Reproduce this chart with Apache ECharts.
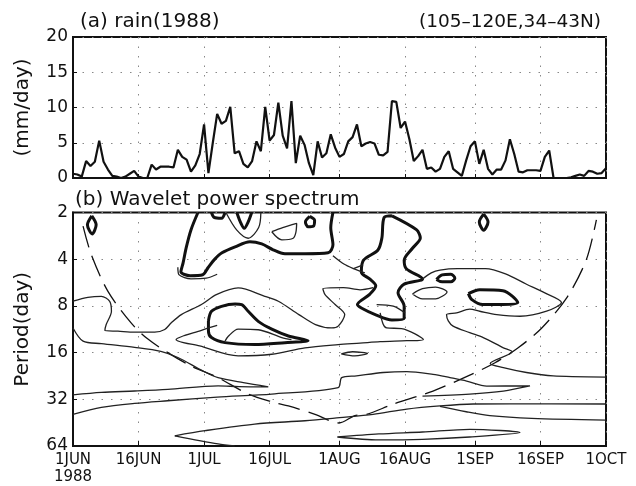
<!DOCTYPE html>
<html>
<head>
<meta charset="utf-8">
<script src="https://cdn.jsdelivr.net/npm/echarts@6/dist/echarts.min.js"></script>
<style>
html, body { margin: 0; padding: 0; background: #fff; }
#main { width: 636px; height: 486px; }
</style>
</head>
<body>
<div id="main"></div>
<script>
// days since 1 Jun 1988
var dayTicks = [0, 15, 30, 45, 61, 76, 92, 107, 122];
var dayLabels = ['1JUN\n1988', '16JUN', '1JUL', '16JUL', '1AUG', '16AUG', '1SEP', '16SEP', '1OCT'];

// (a) daily rain, mm/day, 1 Jun .. 1 Oct
var rain = [
    0.6, 0.5, 0.2, 2.4, 1.7, 2.3, 5.3, 2.3, 1.2, 0.3,
    0.2, 0.0, 0.2, 0.6, 1.0, 0.2, 0.0, 0.0, 1.9, 1.2,
    1.6, 1.6, 1.6, 1.5, 4.0, 3.0, 2.6, 0.9, 1.8, 3.4,
    7.6, 0.7, 5.0, 9.1, 7.7, 8.1, 10.1, 3.5, 3.8, 2.0,
    1.5, 2.4, 5.2, 3.8, 10.1, 5.3, 6.1, 10.7, 6.0, 4.2,
    10.9, 2.1, 6.0, 4.7, 2.1, 0.4, 5.2, 2.9, 3.5, 6.2,
    4.3, 3.0, 3.4, 5.2, 5.8, 7.6, 4.5, 4.9, 5.1, 4.9,
    3.3, 3.2, 3.7, 10.9, 10.8, 7.1, 8.0, 5.5, 2.4, 3.1,
    4.0, 1.3, 1.5, 0.9, 1.3, 3.0, 3.8, 1.3, 0.8, 0.3,
    2.5, 4.5, 5.2, 2.0, 4.0, 1.3, 0.5, 1.2, 1.2, 2.5,
    5.5, 3.4, 0.9, 0.8, 1.1, 1.1, 1.1, 1.0, 3.0, 3.9,
    0.0, 0.0, 0.0, 0.0, 0.1, 0.3, 0.5, 0.3, 1.0, 0.9,
    0.6, 0.7, 1.4
];

// (b) cone of influence, [day, period]
var coi = [
    [2.3, 2.45], [4.2, 3.75], [8, 6.45], [13.3, 10.3], [17, 13], [21.7, 16], [27, 19.5],
    [33.2, 23.2], [40.1, 29.6], [46.2, 33.6], [49.3, 35.3], [55.4, 40], [60.9, 45.5],
    [64.5, 40.8], [67.2, 40], [73.3, 34.4], [82.4, 28.3], [91.2, 22.1], [96.6, 18.6],
    [101.9, 14.9], [107.3, 11.1], [113, 7.1], [117.5, 4.03], [119.8, 2.23]
];

// thick contours (significant power), [day, period]
var thickLines = [
    [[4.3, 2.1], [5.3, 2.4], [4.4, 2.75], [3.3, 2.4], [4.3, 2.1]],
    [[94, 2.05], [95, 2.3], [94, 2.6], [93, 2.3], [94, 2.05]],
    [[28.6, 2], [27, 2.59], [25.9, 3.38], [25.2, 4.22], [24.7, 4.82], [26.8, 5.11], [29.7, 5.04],
     [30.9, 4.54], [32.3, 4.04], [34.1, 3.64], [37.1, 3.33], [40.5, 3.09], [43.2, 3.19],
     [45.8, 3.48], [48.5, 3.69], [53.1, 3.69], [58.4, 3.64], [59.5, 3.23], [59, 2.51], [59.5, 2]],
    [[31.7, 2], [32.3, 2.15], [34, 2.18], [34.8, 2]],
    [[37.5, 2], [38.3, 2.3], [39.2, 2.53], [40.1, 2.3], [40.9, 2]],
    [[54.2, 2.12], [55.3, 2.25], [55, 2.45], [53.8, 2.47], [53.2, 2.3], [54.2, 2.12]],
    [[73, 2.1], [78.6, 2.58], [79.5, 2.92], [77.7, 3.4], [75.8, 4.06], [76.3, 4.61], [80, 5.36],
     [75.8, 5.79], [74.4, 6.57], [75.8, 8.04], [75.8, 9.6], [73, 9.85], [69.3, 9.13], [66, 8.25],
     [65.1, 7.84], [67.9, 6.74], [69.3, 5.93], [67.9, 5.36], [66, 4.85], [66.5, 4.06], [69.8, 3.49],
     [70.7, 2.92], [71.2, 2.16], [73, 2.1]],
    [[83.2, 5.4], [84.5, 5.05], [86.5, 5.0], [87.4, 5.3], [86.5, 5.6], [84.5, 5.6], [83.2, 5.4]],
    [[90.5, 6.67], [93.1, 6.29], [98.4, 6.38], [101.8, 7.62], [98.4, 7.84], [93.8, 7.84], [91.3, 7.29], [90.5, 6.67]],
    [[31, 10.0], [31.7, 8.67], [34, 8.05], [37.1, 7.77], [38.6, 7.84], [40.1, 8.67], [42.4, 10.06],
     [45.5, 11.3], [49.3, 12.5], [53.8, 13.4], [48.5, 13.8], [41.6, 14.2], [34.8, 13.8], [31.7, 12.8],
     [31, 11.6], [31, 10.0]]
];

// thin contours, [day, period]
var thinLines = [
    [[0, 7.46], [3.4, 7.05], [6.5, 6.94], [8.4, 7.47], [8.8, 8.66], [7.6, 10.55], [7.3, 11.53],
     [10.3, 11.64], [14.1, 11.8], [18.7, 11.8], [21, 11.35], [22.5, 10.28], [24.8, 9.1], [29.4, 7.84],
     [32.8, 6.77], [37.8, 6.13], [43.9, 6.94], [47, 7.47], [51.7, 9.1], [55.5, 10.55], [59.2, 11.1],
     [60.7, 10.8], [62.2, 9.1], [60, 7.84], [57.7, 6.77], [57.2, 6.2], [61.9, 6.1], [65.7, 6.3], [68.7, 6.1]],
    [[24, 4.5], [24.3, 5.05], [27, 5.35], [30.5, 5.3], [33, 5.0]],
    [[59.5, 3.8], [62, 4.3], [64.2, 4.6], [66.8, 4.9]],
    [[64.2, 4.6], [66.4, 4.35]],
    [[80, 5.36], [82, 4.9], [84, 4.7], [88, 4.6], [94.4, 4.6], [99, 4.97], [103.7, 5.78], [108, 6.6],
     [111.8, 7.6], [108.4, 8.66], [102.3, 9.33], [97, 9.1], [93.1, 8.66], [90.8, 8.4], [87.8, 8.87],
     [85.5, 9.1], [85.9, 10], [87, 10.8], [90.8, 11.9], [93.9, 12.8], [98.5, 14.9], [100.5, 15.8],
     [95.5, 18.8], [98.5, 20], [103.8, 21.5], [109.9, 22.6], [122, 23]],
    [[77.7, 6.7], [80, 6.2], [83, 6.05], [85.6, 6.5], [83, 7.2], [80, 7.2], [77.7, 6.7]],
    [[33, 10.7], [29.4, 11.5], [23.6, 13.2], [29, 14.5], [37.8, 16.8], [45.5, 16.4], [53.1, 14.9],
     [60.7, 14.2], [65.7, 13.9], [70.3, 13.6], [76.4, 13.4], [80.2, 13.2], [75.2, 11.2], [71.8, 11.1],
     [71, 10.5], [70.3, 8.87]],
    [[69.5, 7.84], [73.3, 8.03], [76, 8.87]],
    [[61.4, 16.3], [64, 15.8], [67.4, 16.2], [64.5, 16.8], [61.4, 16.3]],
    [[45.5, 2.66], [48, 2.5], [51.2, 2.35], [51, 2.7], [50.4, 2.93], [47.8, 3.0], [45.5, 2.66]],
    [[35, 2], [37.5, 2.6], [40.1, 2.93], [42.5, 2.5], [43, 2]],
    [[34.8, 13.5], [35.5, 12.6], [37.8, 11.3], [42.4, 11.4], [47.8, 12.8], [50, 13.2]],
    [[0, 11.1], [2.3, 13.5], [6.5, 14], [14.1, 14.8], [20.1, 15.7], [24, 17.2], [29.7, 21], [33.2, 23.2],
     [39, 25], [44.7, 26.6], [38, 26.5], [33.2, 26.2], [21.7, 27.6], [14.1, 28.3], [6.5, 28.9], [0, 30]],
    [[0, 40], [6.5, 36.1], [14.1, 34], [21.7, 32.7], [33, 31], [45.5, 29.6], [60.7, 26.9], [61.5, 23.2],
     [64.9, 22.6], [71, 21.5], [76.4, 21.2], [82.4, 22.1], [86.3, 23.2], [90.1, 24.4], [94.7, 26.3],
     [104.6, 26.2], [98.5, 28.3], [90.8, 29.6], [80, 30.5]],
    [[23.3, 55], [30.2, 51], [41.6, 46.2], [53.1, 44], [61, 42], [68.7, 40], [76.4, 37], [84, 35.3],
     [91.6, 34.3], [100, 34.2], [122, 34.3]],
    [[84, 35.5], [90, 38.5], [95.4, 40.8], [105, 42.5], [122, 43.6]],
    [[23.3, 55], [33.2, 62], [37, 64]],
    [[60.5, 56], [70, 53.5], [80, 52], [90.8, 50], [102.3, 52.4], [90.8, 56], [80, 58], [70, 58.5], [60.5, 56]]
];

var font = 'DejaVu Sans';
var ink = '#111';
var dotted = { color: '#888', width: 1, type: [1.5, 8] };

var chart = echarts.init(document.getElementById('main'));

var series = [
    {
        type: 'line',
        xAxisIndex: 0,
        yAxisIndex: 0,
        data: rain.map(function (v, i) { return [i, v]; }),
        showSymbol: false,
        lineStyle: { color: ink, width: 2.2 },
        silent: true
    },
    {
        type: 'line',
        xAxisIndex: 1,
        yAxisIndex: 1,
        data: coi,
        showSymbol: false,
        smooth: 0.3,
        lineStyle: { color: ink, width: 1.3, type: [22, 9] },
        silent: true
    }
];

thickLines.forEach(function (pts) {
    series.push({
        type: 'line', xAxisIndex: 1, yAxisIndex: 1, data: pts,
        showSymbol: false, smooth: 0.3, silent: true,
        lineStyle: { color: ink, width: 3 }
    });
});

thinLines.forEach(function (pts) {
    series.push({
        type: 'line', xAxisIndex: 1, yAxisIndex: 1, data: pts,
        showSymbol: false, smooth: 0.3, silent: true,
        lineStyle: { color: '#222', width: 1.3 }
    });
});

var titleStyle = { fontFamily: font, fontSize: 20, fontWeight: 'normal', color: ink };

chart.setOption({
    animation: false,
    backgroundColor: '#fff',
    title: [
        { text: '(a) rain(1988)', left: 75, top: 7, textStyle: titleStyle },
        { text: '(105–120E,34–43N)', right: 30, top: 8,
          textStyle: { fontFamily: font, fontSize: 18.5, fontWeight: 'normal', color: ink } },
        { text: '(b) Wavelet power spectrum', left: 70, top: 185, textStyle: titleStyle }
    ],
    grid: [
        { left: 73, top: 37, width: 533, height: 141, show: true, borderColor: ink, borderWidth: 2 },
        { left: 73, top: 212.5, width: 533, height: 234.5, show: true, borderColor: ink, borderWidth: 2 }
    ],
    xAxis: [
        {
            gridIndex: 0, type: 'value', min: 0, max: 122,
            axisLine: { show: true, lineStyle: { color: ink, width: 2 } },
            axisTick: { show: true, inside: true, length: 4, customValues: dayTicks, lineStyle: { color: ink } },
            axisLabel: { show: false, customValues: dayTicks },
            splitLine: { show: true, lineStyle: dotted }
        },
        {
            gridIndex: 1, type: 'value', min: 0, max: 122,
            axisLine: { show: true, lineStyle: { color: ink, width: 2 } },
            axisTick: { show: true, inside: true, length: 5, customValues: dayTicks, lineStyle: { color: ink } },
            axisLabel: {
                customValues: dayTicks,
                formatter: function (v) { return dayLabels[dayTicks.indexOf(v)]; },
                fontFamily: font, fontSize: 15, color: ink, margin: 6, lineHeight: 17
            },
            splitLine: { show: true, lineStyle: dotted }
        }
    ],
    yAxis: [
        {
            gridIndex: 0, type: 'value', min: 0, max: 20, interval: 5,
            name: '(mm/day)', nameLocation: 'middle', nameGap: 40,
            nameTextStyle: { fontFamily: font, fontSize: 20, color: ink },
            axisLine: { show: true, lineStyle: { color: ink, width: 2 } },
            axisTick: { show: true, inside: true, length: 4, lineStyle: { color: ink } },
            axisLabel: { fontFamily: font, fontSize: 17, color: ink, margin: 5 },
            splitLine: { show: true, lineStyle: dotted }
        },
        {
            gridIndex: 1, type: 'log', logBase: 2, min: 2, max: 64, inverse: true,
            name: 'Period(day)', nameLocation: 'middle', nameGap: 40,
            nameTextStyle: { fontFamily: font, fontSize: 20, color: ink },
            axisLine: { show: true, lineStyle: { color: ink, width: 2 } },
            axisTick: { show: true, inside: true, length: 4, lineStyle: { color: ink } },
            axisLabel: {
                fontFamily: font, fontSize: 17, color: ink, margin: 5,
                formatter: function (v) { return Math.round(v); }
            },
            splitLine: { show: true, lineStyle: dotted }
        }
    ],
    series: series
});
</script>
</body>
</html>
